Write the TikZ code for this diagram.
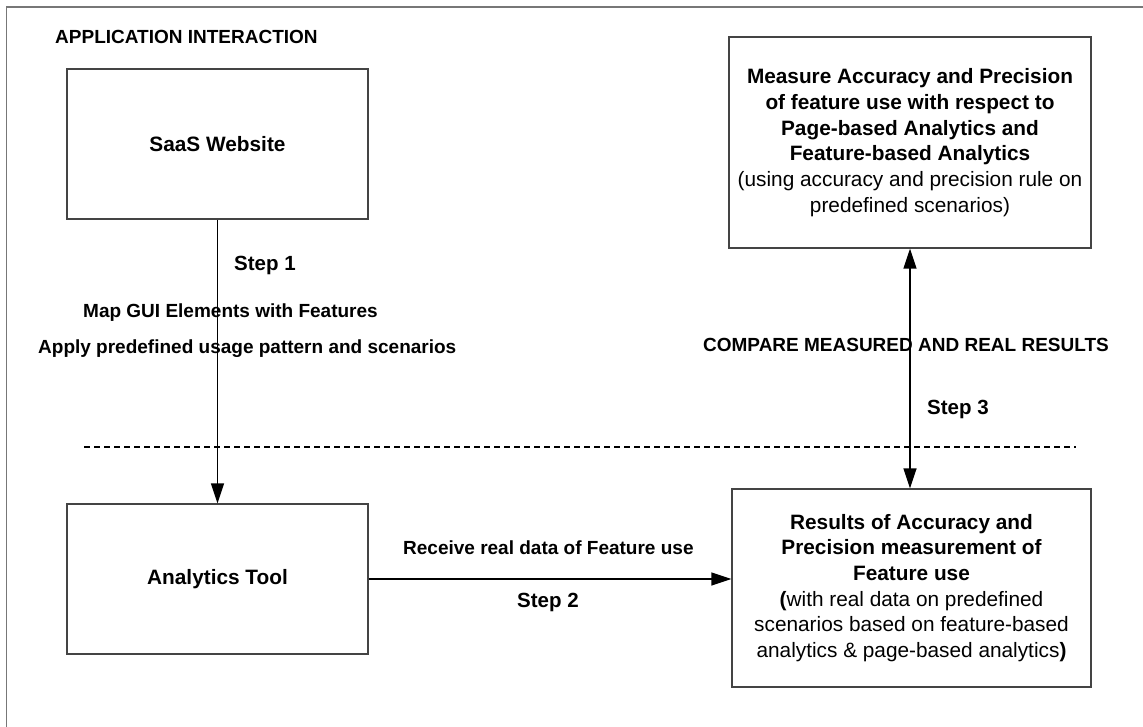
\documentclass[tikz,border=0pt]{standalone}
\usepackage{fontspec}
\setmainfont{Liberation Sans}
\usetikzlibrary{arrows.meta}
\definecolor{boxgray}{HTML}{444444}
\definecolor{framegray}{HTML}{777777}
\begin{document}
\begin{tikzpicture}[x=1pt,y=-1pt,
  box/.style={draw=boxgray, line width=1.3pt, align=center, inner sep=0pt,
    font=\fontsize{20.8}{25.7}\selectfont},
  lbl/.style={inner sep=0pt, font=\bfseries\fontsize{19}{23}\selectfont},
  steplbl/.style={inner sep=0pt, font=\bfseries\fontsize{20.5}{24}\selectfont},
  conn/.style={line width=1.5pt, -{Triangle[length=20pt,width=13pt]}},
  dconn/.style={line width=1.5pt, {Triangle[length=20pt,width=13pt]}-{Triangle[length=20pt,width=13pt]}},
  sep/.style={line width=2pt, dash pattern=on 6pt off 4pt},
  frame/.style={draw=framegray, line width=1.6pt}
]
\useasboundingbox (0,0) rectangle (1143,726);

% outer frame (only top and left edges visible)
\coordinate (frameCorner) at (6.5,7);
\coordinate (frameBottom) at (6.5,730);
\coordinate (frameRight) at (1147,7);
\draw[frame] (frameBottom) -- (frameCorner) -- (frameRight);

% title
\node[lbl, anchor=west] (title) at (55,37) {APPLICATION INTERACTION};

% boxes
\node[box, minimum width=301pt, minimum height=150pt] (saas) at (217.5,144)
  {\textbf{SaaS Website}};
\node[box, minimum width=301pt, minimum height=150pt] (tool) at (217.5,579)
  {\textbf{Analytics Tool}};
\node[box, minimum width=362pt, minimum height=211pt] (measure) at (910,142.5)
  {\textbf{Measure Accuracy and Precision}\\
   \textbf{of feature use with respect to}\\
   \textbf{Page-based Analytics and}\\
   \textbf{Feature-based Analytics}\\
   (using accuracy and precision rule on\\
   predefined scenarios)};
\node[box, minimum width=359pt, minimum height=198pt] (results) at (911.5,588)
  {\textbf{Results of Accuracy and}\\
   \textbf{Precision measurement of}\\
   \textbf{Feature use}\\
   \textbf{(}with real data on predefined\\
   scenarios based on feature-based\\
   analytics \& page-based analytics\textbf{)}};

% separator
\coordinate (sepL) at (84,447);
\coordinate (sepR) at (1076,447);
\draw[sep] (sepL) -- (sepR);

% connectors
\draw[conn] (saas.south) -- (tool.north);
\draw[conn] (tool.east) -- (tool.east -| results.west);
\draw[dconn] (measure.south) -- (measure.south |- results.north);

% labels
\node[steplbl, anchor=west] (step1) at (234,265) {Step 1};
\node[lbl, anchor=west] (mapgui) at (83,313) {Map GUI Elements with Features};
\node[lbl, anchor=west] (apply) at (38,349) {Apply predefined usage pattern and scenarios};
\node[lbl] (compare) at (906,345) {COMPARE MEASURED AND REAL RESULTS};
\node[steplbl, anchor=west] (step3) at (927,409) {Step 3};
\node[lbl, anchor=west] (receive) at (403,548) {Receive real data of Feature use};
\node[steplbl, anchor=west] (step2) at (517,602) {Step 2};
\end{tikzpicture}
\end{document}
